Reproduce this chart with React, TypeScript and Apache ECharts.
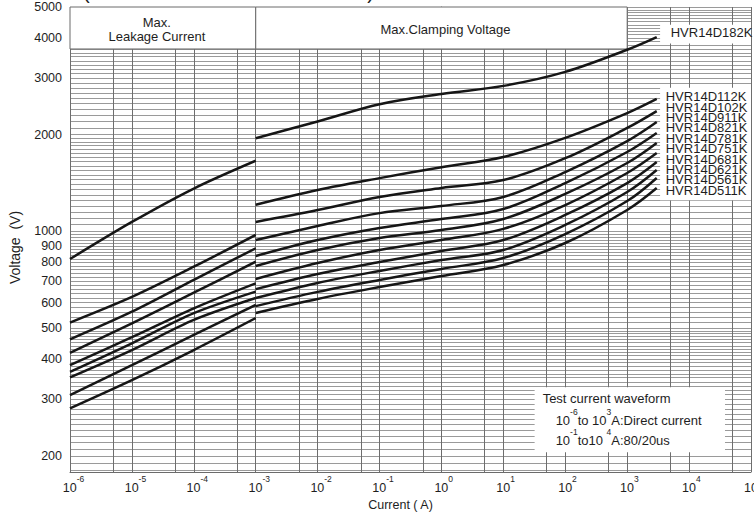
import React, { useEffect, useRef } from "react";
import * as echarts from "echarts";

const FONT = '"Liberation Sans", Arial, Helvetica, sans-serif';

// Current sample points (A)
const leakageCurrent = [1e-6, 1e-5, 1e-4, 1e-3];
const clampCurrent = [1e-3, 1e-2, 1e-1, 1, 10, 100, 1000, 3000];

// Max. leakage current curves (V)
const leak1 = [820, 1070, 1360, 1660];
const leak2 = [520, 625, 776, 975];
const leak3 = [461, 562, 706, 886];
const leak4 = [418, 517, 644, 805];
const leak5 = [383, 468, 576, 689];
const leak6 = [365, 448, 556, 649];
const leak7 = [351, 427, 530, 620];
const leak8 = [309, 383, 476, 590];
const leak9 = [281, 344, 427, 537];

// Max. clamping voltage curves (V)
const clamp182K = [1950, 2200, 2490, 2680, 2840, 3140, 3680, 4030];
const clamp112K = [1210, 1345, 1465, 1585, 1705, 1955, 2335, 2585];
const clamp102K = [1070, 1165, 1280, 1365, 1445, 1690, 2100, 2370];
const clamp911K = [940, 1040, 1140, 1200, 1280, 1530, 1910, 2190];
const clamp821K = [838, 940, 1025, 1093, 1174, 1414, 1767, 2025];
const clamp781K = [780, 875, 954, 1010, 1093, 1308, 1633, 1885];
const clamp751K = [711, 797, 875, 940, 1018, 1208, 1520, 1754];
const clamp681K = [661, 737, 803, 869, 940, 1125, 1414, 1644];
const clamp621K = [620, 691, 753, 814, 875, 1047, 1326, 1553];
const clamp561K = [585, 648, 706, 764, 826, 981, 1243, 1467];
const clamp511K = [557, 616, 671, 726, 786, 920, 1166, 1365];

const productNames = [
  "HVR14D182K", "HVR14D112K", "HVR14D102K", "HVR14D911K", "HVR14D821K", "HVR14D781K",
  "HVR14D751K", "HVR14D681K", "HVR14D621K", "HVR14D561K", "HVR14D511K",
];

// Tick labels
const yTickLabels = [200, 300, 400, 500, 600, 700, 800, 900, 1000, 2000, 3000, 4000, 5000];
const xTickExponents = [-6, -5, -4, -3, -2, -1, 0, 1, 2, 3, 4, 5];

// axis range
const Y_MIN = 178;
const Y_MAX = 5000;

const lg = Math.log10;

// label nudges (px) so the names stack like the reference column
const labelOffsets: [number, number][] = [
  [14, -5], [9, -2.3], [9, -3.9], [9, -4.5], [9, -5.1], [9, -4.7],
  [9, -4.3], [9, -2.9], [9, -0.5], [9, 1.9], [9, 2.3],
];

function buildGridY(): number[] {
  const out: number[] = [];
  for (let v = 180; v <= 500; v += 10) out.push(lg(v));
  for (let v = 520; v <= 1000; v += 20) out.push(lg(v));
  for (let v = 1050; v <= 2000; v += 50) out.push(lg(v));
  for (let v = 2100; v <= 5000; v += 100) out.push(lg(v));
  return out;
}
function buildGridX(): number[] {
  const out: number[] = [];
  for (let d = -6; d <= 5; d++) {
    out.push(d);
    if (d < 5) out.push(d + lg(5));
  }
  return out;
}

export default function App() {
  const ref = useRef<HTMLDivElement>(null);
  useEffect(() => {
    const chart = echarts.init(ref.current!, null, { renderer: "svg" });
    const leaks = [leak1, leak2, leak3, leak4, leak5, leak6, leak7, leak8, leak9];
    const clamps = [
      clamp182K, clamp112K, clamp102K, clamp911K, clamp821K, clamp781K,
      clamp751K, clamp681K, clamp621K, clamp561K, clamp511K,
    ];
    const lineStyle = { color: "#161616", width: 2.5 };
    const toPts = (xs: number[], ys: number[]) => xs.map((x, i) => [lg(x), lg(ys[i])]);

    const white = { color: "#ffffff" };
    const boxed = { color: "#ffffff", borderColor: "#6b6b6b", borderWidth: 1 };
    const txt = { color: "#1e1e1e", fontFamily: FONT, fontSize: 13 };

    const annotation = {
      silent: true,
      data: [
        [
          {
            xAxis: lg(1e-6), yAxis: lg(3700), itemStyle: boxed,
            label: { show: true, position: "inside", formatter: "Max.\nLeakage Current", ...txt, lineHeight: 13.5, offset: [-6, 1.5] },
          },
          { xAxis: lg(1e-3), yAxis: lg(5000) },
        ],
        [
          {
            xAxis: lg(1e-3), yAxis: lg(3700), itemStyle: boxed,
            label: { show: true, position: "inside", formatter: "Max.Clamping Voltage", ...txt, offset: [4, 2] },
          },
          { xAxis: lg(1e3), yAxis: lg(5000) },
        ],
        [
          { xAxis: lg(3400), yAxis: lg(3850), itemStyle: white, label: { show: false } },
          { xAxis: lg(1e5), yAxis: lg(4400) },
        ],
        [
          { xAxis: lg(3400), yAxis: lg(1250), itemStyle: white, label: { show: false } },
          { xAxis: lg(1e5), yAxis: lg(2800) },
        ],
        [
          {
            xAxis: lg(32), yAxis: lg(205), itemStyle: white,
            label: {
              show: true,
              position: "insideTopLeft",
              distance: 0,
              offset: [8, 2],
              formatter:
                "{t|Test current waveform}\n{i| }{n|10}{s|-6}{n|to 10}{s|3}{n|A:Direct current}\n{i| }{n|10}{s|-1}{n|to10 }{s|4}{n|A:80/20us}",
              rich: {
                t: { ...txt, lineHeight: 18 },
                i: { width: 13, fontSize: 13, lineHeight: 20 },
                n: { ...txt, lineHeight: 20, verticalAlign: "bottom" },
                s: { ...txt, fontSize: 8.5, lineHeight: 10, verticalAlign: "top" },
              },
            },
          },
          { xAxis: lg(38000), yAxis: lg(327) },
        ],
      ],
    };

    const series: any[] = [];
    leaks.forEach((ys, i) => {
      series.push({
        name: `Leakage ${i + 1}`,
        type: "line",
        data: toPts(leakageCurrent, ys),
        showSymbol: false,
        smooth: 0.3,
        lineStyle,
        z: 3,
        ...(i === 0 ? { markArea: annotation } : {}),
      });
    });
    clamps.forEach((ys, i) => {
      series.push({
        name: productNames[i],
        type: "line",
        data: toPts(clampCurrent, ys),
        showSymbol: false,
        smooth: 0.35,
        lineStyle,
        z: 3,
        endLabel: {
          show: true,
          formatter: productNames[i],
          distance: 0,
          offset: labelOffsets[i],
          ...txt,
          lineHeight: 10,
        },
      });
    });

    const xGrid = buildGridX();
    const yGrid = buildGridY();

    chart.setOption({
      animation: false,
      backgroundColor: "#ffffff",
      textStyle: { fontFamily: FONT },
      grid: { left: 70, right: 3, top: 7, bottom: 42, containLabel: false, outerBoundsMode: "none" },
      xAxis: {
        type: "value",
        min: -6,
        max: 5,
        name: "Current ( A)",
        nameLocation: "middle",
        nameGap: 25,
        nameTextStyle: { ...txt, fontSize: 12.5, padding: [0, 20, 0, 0] },
        axisLine: { show: true, lineStyle: { color: "#6b6b6b", width: 1 } },
        axisTick: { show: false, customValues: xGrid },
        splitLine: { show: true, customValues: xGrid, lineStyle: { color: "#6e6e6e", width: 1 } },
        axisLabel: {
          customValues: xTickExponents,
          margin: 2,
          formatter: (v: number) => {
            const e = Math.round(v);
            return `{${e < 0 ? "gn" : "gp"}| }{b|10}{s|${e}}`;
          },
          rich: {
            b: { color: "#1e1e1e", fontFamily: FONT, fontSize: 12.5, lineHeight: 20, verticalAlign: "bottom" },
            s: { color: "#1e1e1e", fontFamily: FONT, fontSize: 8.5, lineHeight: 10, verticalAlign: "top" },
            gn: { width: 7, fontSize: 8, lineHeight: 10 },
            gp: { width: 4.5, fontSize: 8, lineHeight: 10 },
          },
        },
      },
      yAxis: {
        type: "value",
        min: lg(Y_MIN),
        max: lg(Y_MAX),
        name: "Voltage  (V)",
        nameLocation: "middle",
        nameGap: 48,
        nameTextStyle: { ...txt, fontSize: 14, padding: [0, 16, 0, 0] },
        axisLine: { show: true, lineStyle: { color: "#6b6b6b", width: 1 } },
        axisTick: { show: false, customValues: yGrid },
        splitLine: { show: true, customValues: yGrid, lineStyle: { color: "#9a9a9a", width: 1 } },
        axisLabel: {
          customValues: yTickLabels.map((v) => lg(v)),
          margin: 8,
          color: "#1e1e1e",
          fontFamily: FONT,
          fontSize: 12.5,
          formatter: (v: number) => String(Math.round(Math.pow(10, v))),
        },
      },
      graphic: [
        {
          type: "text",
          left: 83,
          top: -18,
          style: { text: "(HVR14D511K to HVR14D182K)", fill: "#1e1e1e", font: `20px ${FONT}` },
        },
      ],
      series,
    });
    return () => chart.dispose();
  }, []);
  return (
    <div
      ref={ref}
      style={{ position: "fixed", left: 0, top: 0, width: 754, height: 514, background: "#fff" }}
    />
  );
}
